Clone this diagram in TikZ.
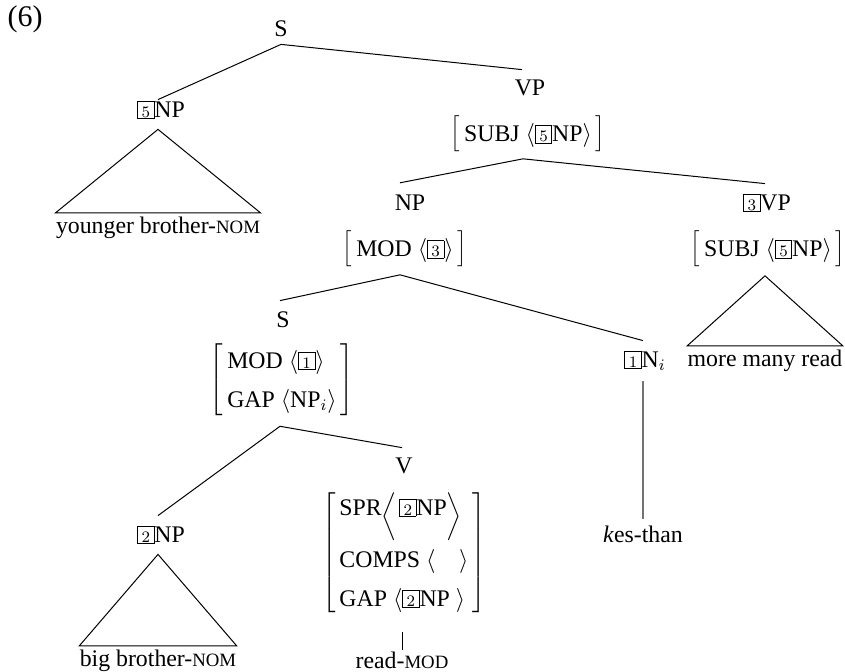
\documentclass[tikz,border=0pt]{standalone}
\usepackage[no-math]{fontspec}
\setmainfont{Liberation Serif}
\usetikzlibrary{calc}
\newcommand\bx[1]{{\setlength\fboxsep{0pt}\setlength\fboxrule{0.4pt}\fbox{\makebox[7.8pt][c]{\rule[-0.4pt]{0pt}{8.2pt}$\scriptstyle #1$}}}}
\newcommand\fsc[1]{{\fontsize{9.4}{11}\selectfont #1}}
\newcommand\bigangl[1]{\raisebox{-3.5pt}{$\left#1\rule[-7pt]{0pt}{20pt}\right.$}}
\newcommand\avm[1]{$\left[\renewcommand\arraystretch{1.35}\begin{array}{@{\hspace{2pt}}l@{\hspace{2pt}}}#1\end{array}\right]$}
\begin{document}
\begin{tikzpicture}[x=0.5pt,y=-0.5pt,
  every node/.style={font=\fontsize{11.9}{14.4}\selectfont, inner sep=0pt},
  edge/.style={line width=0.5pt},
  gedge/.style={line width=0.6pt, draw=black!55}]
\useasboundingbox (0,0) rectangle (845,672);
\node[font=\fontsize{15}{18}\selectfont] (ex) at (25,19) {(6)};
\node (s) at (281,29) {S};
\node (np5) at (161,110) {\bx5NP};
\node (vp) at (530,88) {VP};
\node (vpavm) at (528,134) {\avm{\mbox{SUBJ}\ \langle\bx5\mbox{NP}\rangle}};
\node (np) at (410,203) {NP};
\node (npavm) at (405,249) {\avm{\mbox{MOD}\ \langle\bx3\rangle}};
\node (vp3) at (767,203) {\bx3VP};
\node (vp3avm) at (768,249) {\avm{\mbox{SUBJ}\ \langle\bx5\mbox{NP}\rangle}};
\node (s2) at (283,320) {S};
\node (savm) at (282,380) {\avm{\mbox{MOD}\ \langle\bx1\rangle\\ \mbox{GAP}\ \langle\mbox{NP}_i\rangle}};
\node (n1) at (645,361) {\bx1N$_i$};
\node (kes) at (643,534) {\textit{k}es-than};
\node (v) at (404,466) {V};
\node (vavm) at (404,553) {\avm{\mbox{SPR}\bigangl\langle\bx2\mbox{NP}\bigangl\rangle\\ \mbox{COMPS}\ \langle\quad\rangle\\ \mbox{GAP}\ \langle\bx2\mbox{NP}\ \rangle}};
\node (read) at (402,660) {read-\fsc{MOD}};
\node (np2) at (161,535) {\bx2NP};
\node (big) at (158,661) {big brother-\fsc{NOM}};
\node (yb) at (158,228) {younger brother-\fsc{NOM}};
\node (more) at (765,361) {more many read};
% tree edges
\draw[edge] ([yshift=-3.5pt]s.south) -- ([xshift=-1.5pt,yshift=0.5pt]np5.north);
\draw[edge] ([yshift=-3.5pt]s.south) -- ([xshift=-4pt,yshift=5pt]vp.north);
\draw[edge] ([xshift=-2.5pt,yshift=-2.5pt]vpavm.south) -- ([xshift=-5pt,yshift=6pt]np.north);
\draw[edge] ([xshift=-2.5pt,yshift=-2.5pt]vpavm.south) -- ([xshift=-1pt,yshift=5pt]vp3.north);
\draw[edge] ([xshift=-2.5pt,yshift=-3pt]npavm.south) -- ([xshift=-1.5pt,yshift=5.5pt]s2.north);
\draw[edge] ([xshift=-2.5pt,yshift=-3pt]npavm.south) -- ([xshift=-1pt,yshift=5pt]n1.north);
\draw[edge] ([xshift=-1pt,yshift=-3.5pt]savm.south) -- ([xshift=-1.5pt,yshift=5pt]np2.north);
\draw[edge] ([xshift=-1pt,yshift=-3.5pt]savm.south) -- ([xshift=-1pt,yshift=5pt]v.north);
\draw[gedge] ([xshift=-1pt,yshift=-5pt]n1.south) -- ([yshift=3pt]kes.north);
\draw[edge] ([xshift=-1pt,yshift=-7pt]vavm.south) -- ([yshift=0.5pt]read.north);
% triangles
\draw[edge] ([xshift=-1.5pt,yshift=-5pt]np5.south) -- ([yshift=2pt]yb.north west) -- ([yshift=2pt]yb.north east) -- cycle;
\draw[edge] ([xshift=-1.5pt,yshift=-5pt]np2.south) -- ([yshift=2pt]big.north west) -- ([yshift=2pt]big.north east) -- cycle;
\draw[edge] ([xshift=-1.5pt,yshift=-3.5pt]vp3avm.south) -- ([yshift=2pt]more.north west) -- ([yshift=2pt]more.north east) -- cycle;
\end{tikzpicture}
\end{document}
